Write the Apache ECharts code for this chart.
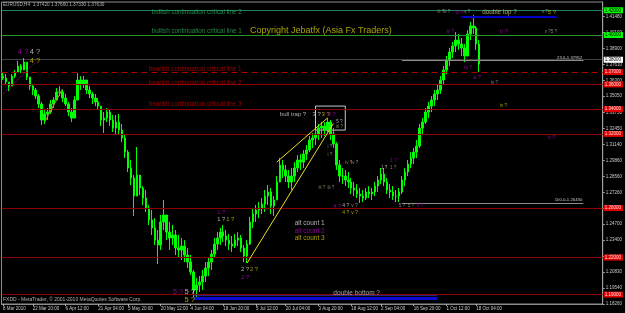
<!DOCTYPE html>
<html style="height: 100%; margin: 0;">
<head>
<meta charset="utf-8" />
<title>EURUSD,H4</title>
<script src="https://cdn.jsdelivr.net/npm/echarts@6.0.0/dist/echarts.min.js" type="text/javascript" charset="utf-8"></script>
</head>
<body style="height: 100%; margin: 0; background: #000;">
<div id="main" style="width: 625px; height: 313px;"></div>
<script type="text/javascript">
// one bar per trading day
var openP = [1.3668,1.3652,1.3620,1.3587,1.3668,1.3701,1.3749,1.3717,1.3781,1.3660,
  1.3587,1.3555,1.3506,1.3442,1.3312,1.3361,1.3377,1.3442,1.3474,1.3539,
  1.3539,1.3490,1.3442,1.3377,1.3328,1.3474,1.3636,1.3603,1.3636,1.3555,
  1.3523,1.3490,1.3458,1.3425,1.3312,1.3328,1.3377,1.3312,1.3247,1.3296,
  1.3231,1.3167,1.3053,1.2924,1.2843,1.2697,1.2867,1.2762,1.2681,1.2600,
  1.2503,1.2439,1.2341,1.2301,1.2487,1.2544,1.2406,1.2358,1.2382,1.2277,
  1.2261,1.2293,1.2220,1.2163,1.2083,1.1937,1.1977,1.2002,1.2050,1.2115,
  1.2163,1.2228,1.2309,1.2358,1.2406,1.2374,1.2341,1.2309,1.2293,1.2341,
  1.2358,1.2277,1.2212,1.2309,1.2487,1.2552,1.2584,1.2600,1.2633,1.2697,
  1.2730,1.2617,1.2665,1.2811,1.2948,1.2908,1.2859,1.2811,1.2859,1.2924,
  1.2989,1.2972,1.3037,1.3070,1.3150,1.3167,1.3199,1.3247,1.3264,1.3231,
  1.3296,1.3199,1.3118,1.2948,1.2859,1.2859,1.2827,1.2811,1.2762,1.2746,
  1.2714,1.2697,1.2681,1.2730,1.2714,1.2730,1.2778,1.2827,1.2875,1.2811,
  1.2746,1.2730,1.2697,1.2697,1.2730,1.2827,1.2892,1.2956,1.3005,1.3053,
  1.3102,1.3247,1.3296,1.3377,1.3425,1.3474,1.3523,1.3555,1.3636,1.3717,
  1.3798,1.3862,1.3911,1.3959,1.3927,1.3895,1.3830,1.4008,1.4073,1.4057,1.3927];
var closeP = [1.3652,1.3620,1.3587,1.3668,1.3701,1.3749,1.3717,1.3781,1.3660,1.3587,
  1.3555,1.3506,1.3442,1.3312,1.3361,1.3377,1.3442,1.3474,1.3539,1.3539,
  1.3490,1.3442,1.3377,1.3328,1.3474,1.3636,1.3603,1.3636,1.3555,1.3523,
  1.3490,1.3458,1.3425,1.3312,1.3328,1.3377,1.3312,1.3247,1.3296,1.3231,
  1.3167,1.3053,1.2924,1.2843,1.2697,1.2867,1.2762,1.2681,1.2600,1.2503,
  1.2439,1.2341,1.2301,1.2487,1.2544,1.2406,1.2358,1.2382,1.2277,1.2261,
  1.2293,1.2220,1.2163,1.2083,1.1937,1.1977,1.2002,1.2050,1.2115,1.2163,
  1.2228,1.2309,1.2358,1.2406,1.2374,1.2341,1.2309,1.2293,1.2341,1.2358,
  1.2277,1.2212,1.2309,1.2487,1.2552,1.2584,1.2600,1.2633,1.2697,1.2730,
  1.2617,1.2665,1.2811,1.2948,1.2908,1.2859,1.2811,1.2859,1.2924,1.2989,
  1.2972,1.3037,1.3070,1.3150,1.3167,1.3199,1.3247,1.3264,1.3231,1.3296,
  1.3199,1.3118,1.2948,1.2859,1.2859,1.2827,1.2811,1.2762,1.2746,1.2714,
  1.2697,1.2681,1.2730,1.2714,1.2730,1.2778,1.2827,1.2875,1.2811,1.2746,
  1.2730,1.2697,1.2697,1.2730,1.2827,1.2892,1.2956,1.3005,1.3053,1.3102,
  1.3247,1.3296,1.3377,1.3425,1.3474,1.3523,1.3555,1.3636,1.3717,1.3798,
  1.3862,1.3911,1.3959,1.3927,1.3895,1.3830,1.4008,1.4073,1.4057,1.3927,1.3765];
var lowP = [1.3636,1.3603,1.3547,1.3587,1.3652,1.3701,1.3692,1.3717,1.3636,1.3555,
  1.3514,1.3482,1.3409,1.3272,1.3280,1.3312,1.3361,1.3409,1.3474,1.3506,
  1.3458,1.3425,1.3345,1.3296,1.3328,1.3474,1.3555,1.3571,1.3523,1.3490,
  1.3442,1.3425,1.3393,1.3264,1.3207,1.3296,1.3264,1.3215,1.3191,1.3199,
  1.3134,1.3005,1.2892,1.2786,1.2536,1.2697,1.2705,1.2625,1.2568,1.2463,
  1.2382,1.2301,1.2147,1.2261,1.2422,1.2341,1.2261,1.2301,1.2220,1.2196,
  1.2180,1.2163,1.2115,1.2058,1.1880,1.1880,1.1921,1.1937,1.2002,1.2050,
  1.2099,1.2196,1.2261,1.2301,1.2325,1.2293,1.2261,1.2244,1.2277,1.2293,
  1.2244,1.2163,1.2155,1.2301,1.2439,1.2487,1.2519,1.2552,1.2568,1.2625,
  1.2552,1.2536,1.2665,1.2811,1.2843,1.2811,1.2762,1.2746,1.2811,1.2892,
  1.2908,1.2924,1.2989,1.3053,1.3086,1.3110,1.3150,1.3167,1.3183,1.3215,
  1.3150,1.3086,1.2908,1.2811,1.2794,1.2778,1.2762,1.2714,1.2697,1.2681,
  1.2641,1.2649,1.2665,1.2681,1.2665,1.2697,1.2730,1.2794,1.2778,1.2714,
  1.2681,1.2665,1.2649,1.2649,1.2714,1.2778,1.2859,1.2924,1.2956,1.3005,
  1.3086,1.3199,1.3280,1.3328,1.3377,1.3425,1.3474,1.3523,1.3603,1.3684,
  1.3749,1.3814,1.3862,1.3879,1.3830,1.3781,1.3830,1.3959,1.4008,1.3879,1.3701];
var highP = [1.3701,1.3684,1.3620,1.3684,1.3717,1.3790,1.3765,1.3814,1.3781,1.3660,
  1.3603,1.3571,1.3523,1.3458,1.3393,1.3409,1.3474,1.3498,1.3571,1.3587,
  1.3555,1.3523,1.3458,1.3409,1.3506,1.3692,1.3668,1.3668,1.3636,1.3587,
  1.3539,1.3523,1.3490,1.3425,1.3377,1.3409,1.3393,1.3353,1.3353,1.3361,
  1.3280,1.3199,1.3070,1.2989,1.2867,1.3094,1.2867,1.2778,1.2746,1.2625,
  1.2584,1.2519,1.2422,1.2544,1.2665,1.2544,1.2487,1.2463,1.2422,1.2382,
  1.2358,1.2341,1.2277,1.2220,1.2099,1.2034,1.2050,1.2099,1.2163,1.2196,
  1.2261,1.2358,1.2406,1.2439,1.2463,1.2422,1.2390,1.2374,1.2390,1.2406,
  1.2382,1.2301,1.2341,1.2528,1.2600,1.2625,1.2649,1.2681,1.2746,1.2786,
  1.2762,1.2697,1.2859,1.3005,1.2989,1.2948,1.2908,1.2924,1.2972,1.3029,
  1.3037,1.3070,1.3110,1.3183,1.3207,1.3231,1.3280,1.3296,1.3296,1.3328,
  1.3312,1.3247,1.3134,1.2989,1.2924,1.2908,1.2892,1.2843,1.2811,1.2794,
  1.2762,1.2746,1.2762,1.2778,1.2762,1.2811,1.2859,1.2924,1.2924,1.2843,
  1.2794,1.2778,1.2746,1.2762,1.2859,1.2924,1.2989,1.3053,1.3086,1.3150,
  1.3280,1.3328,1.3409,1.3458,1.3506,1.3555,1.3603,1.3668,1.3749,1.3830,
  1.3895,1.3943,1.4024,1.4008,1.3976,1.3927,1.4040,1.4105,1.4162,1.4073,1.3959];

var slotCount = 202;
var dateLabelIdx = [0, 10, 21, 32, 42, 53, 63, 74, 85, 95, 106, 117, 127, 138, 149, 159];
var dateLabelText = ['8 Mar 2010', '22 Mar 20:00', '6 Apr 12:00', '21 Apr 04:00', '5 May 20:00',
  '20 May 12:00', '4 Jun 04:00', '18 Jun 20:00', '5 Jul 12:00', '20 Jul 04:00', '3 Aug 20:00',
  '18 Aug 12:00', '2 Sep 04:00', '16 Sep 20:00', '1 Oct 12:00', '18 Oct 04:00'];
var priceTicks = [1.18260, 1.19540, 1.20830, 1.22100, 1.23400, 1.24700, 1.25980, 1.27260, 1.28560,
  1.29860, 1.31140, 1.32450, 1.33750, 1.35050, 1.36300, 1.37610, 1.38900, 1.40190, 1.41480];

var fibLevel = ['0.0', '23.6', '38.2', '50.0', '61.8', '100.0'];
var fibPrice = [1.41563, 1.37952, 1.35782, 1.33997, 1.32211, 1.26430];

var C_W = '#d8d8d8', C_Y = '#d4c800', C_M = '#b400c0', C_O = '#a8a060', C_G = '#a8a8a8';
var C_GREEN = '#2fa55a', C_RED = '#c00000';

// text, slot, price, colour, size
var notes = [
  ['EURUSD,H4  1.37420 1.37660 1.37330 1.37630', 0, 1.4243, C_W, 4.7],
  ['bullish continuation critical line 2', 50, 1.4186, C_GREEN, 6.3],
  ['bullish continuation critical line 1', 50, 1.4032, C_GREEN, 6.3],
  ['Copyright Jebatfx (Asia Fx Traders)', 83, 1.4040, C_Y, 9],
  ['bearish continuation critical line 1', 49, 1.3725, C_RED, 6.3],
  ['bearish continuation critical line 2', 49, 1.3612, C_RED, 6.3],
  ['bearish continuation critical line 3', 49, 1.3442, C_RED, 6.3],
  ['4 ?', 5, 1.3862, C_M, 7.5], ['4 ?', 9, 1.3862, C_W, 7.5], ['4 ?', 9, 1.3790, C_Y, 7.5],
  ['5 ?', 57, 1.1921, C_M, 7.5], ['5 ?', 61, 1.1921, C_W, 7.5], ['5 ?', 61, 1.1856, C_Y, 7.5],
  ['2 ?', 80, 1.2107, C_W, 5.8], ['2 ?', 83, 1.2107, C_Y, 5.8], ['2 ?', 80, 1.2042, C_M, 6],
  ['1 ?', 72, 1.2568, C_M, 5.8], ['1 ?', 72, 1.2511, C_W, 5.8], ['1 ?', 75, 1.2511, C_Y, 5.8],
  ['bull trap ?', 93, 1.3361, C_W, 6],
  ['3 ?', 104, 1.3361, C_W, 6], ['3 ?', 107, 1.3361, C_Y, 6], ['3 ?', 109, 1.3361, C_M, 6],
  ['5 ?', 112, 1.3296, C_W, 4.5], ['iii ?', 112, 1.3256, C_O, 4.5],
  ['i ?', 109, 1.3094, C_G, 4.5], ['i ?', 109, 1.3029, C_O, 4.5],
  ['iv ?', 115, 1.2964, C_O, 4.5], ['iv ?', 117, 1.2964, C_G, 4.5],
  ['1 ?', 130, 1.2980, C_M, 5], ['1 ?', 127, 1.2924, C_W, 4.5], ['1 ?', 130, 1.2924, C_O, 4.5],
  ['iii ?', 106, 1.2762, C_O, 4.5], ['iii ?', 109, 1.2762, C_G, 4.5],
  ['4 ?', 111, 1.2617, C_M, 5.8], ['4 ?', 114, 1.2617, C_W, 5], ['v ?', 117, 1.2617, C_G, 5],
  ['4 ?', 114, 1.2560, C_Y, 5], ['v ?', 117, 1.2560, C_Y, 5],
  ['5 ?', 133, 1.2617, C_G, 4.5], ['5 ?', 136, 1.2617, C_O, 4.5], ['5 ?', 139, 1.2617, C_M, 4.5],
  ['alt count 1', 98, 1.2479, C_W, 6.5], ['alt count 2', 98, 1.2414, C_M, 6.5], ['alt count 3', 98, 1.2358, C_Y, 6.5],
  ['double top ?', 161, 1.4186, '#d0d080', 6.3],
  ['iii ?', 146, 1.4186, C_O, 4.5], ['iii ?', 148, 1.4186, C_G, 4.5], ['5 ?', 152, 1.4186, C_M, 6], ['v ?', 155, 1.4186, C_G, 4.5],
  ['v ?', 181, 1.4186, C_G, 4.5], ['5 ?', 183, 1.4186, C_Y, 6],
  ['iii ?', 149, 1.4024, C_M, 5], ['b ?', 167, 1.4032, C_M, 6], ['v ?5 ?', 182, 1.4024, C_G, 4.5],
  ['iv ?', 155, 1.3733, C_M, 5], ['a ?', 158, 1.3660, C_M, 5.5],
  ['iv ?', 164, 1.3612, C_G, 4.5], ['iv ?', 167, 1.3425, C_Y, 4.5], ['c ?', 183, 1.3175, C_M, 6],
  ['double bottom ?', 111, 1.1913, '#c8c8c8', 6.5],
  ['FXDD - MetaTrader, \u00a9 2001-2010 MetaQuotes Software Corp.', 0, 1.1856, C_W, 5]
];

var dates = [];
var d = new Date(Date.UTC(2010, 2, 8));
while (dates.length < slotCount) {
  var wd = d.getUTCDay();
  if (wd !== 0 && wd !== 6) dates.push(d.toISOString().slice(0, 10));
  d.setUTCDate(d.getUTCDate() + 1);
}

var bars = [];
for (var i = 0; i < openP.length; i++) {
  bars.push([openP[i], closeP[i], lowP[i], highP[i]]);
}

function tag(bg, fg) {
  return {
    show: true, position: 'end', distance: 1, backgroundColor: bg, color: fg,
    fontSize: 4.5, padding: [1, 2, 0, 1],
    formatter: function (p) { return p.value.toFixed(5); }
  };
}

var darkRed = '#8c0000';
var lines = [
  { yAxis: 1.41563, lineStyle: { color: '#1d8060', width: 1, type: 'solid' }, label: tag('#00ff00', '#000') },
  { yAxis: 1.39950, lineStyle: { color: '#26962a', width: 1, type: 'solid' }, label: tag('#00ff00', '#000') },
  { yAxis: 1.37630, lineStyle: { color: '#808080', width: 1, type: 'dotted' }, label: tag('#ffffff', '#000') },
  { yAxis: 1.36950, lineStyle: { color: '#b00000', width: 1, type: [6, 4] }, label: tag('#e00000', '#ffe0e0') },
  { yAxis: 1.35782, lineStyle: { color: darkRed, width: 1, type: 'solid' }, label: tag('#e00000', '#ffe0e0') },
  { yAxis: 1.33997, lineStyle: { color: darkRed, width: 1, type: 'solid' }, label: tag('#e00000', '#ffe0e0') },
  { yAxis: 1.32211, lineStyle: { color: darkRed, width: 1, type: 'solid' }, label: tag('#e00000', '#ffe0e0') },
  { yAxis: 1.25760, lineStyle: { color: darkRed, width: 1, type: 'solid' }, label: tag('#e00000', '#ffe0e0') },
  { yAxis: 1.21640, lineStyle: { color: darkRed, width: 1, type: 'solid' }, label: tag('#e00000', '#ffe0e0') },
  { yAxis: 1.18810, lineStyle: { color: darkRed, width: 1, type: 'solid' }, label: tag('#e00000', '#ffe0e0') }
];

// fibo retracement drawn on the last swing
for (var f = 0; f < fibLevel.length; f++) {
  var visible = fibLevel[f] === '23.6' || fibLevel[f] === '100.0';
  lines.push([
    {
      coord: [134, fibPrice[f]],
      lineStyle: { color: '#8c8c8c', width: visible ? 1 : 0, opacity: visible ? 1 : 0, type: 'solid' },
      label: {
        show: true, position: 'insideEndTop', distance: 1, color: '#c8c8c8', fontSize: 4.3,
        formatter: fibLevel[f] + '-' + fibPrice[f].toFixed(5)
      }
    },
    { coord: [195, fibPrice[f]] }
  ]);
}

lines.push(
  [{ coord: [82, 1.2155], lineStyle: { color: '#e8e020', width: 1, type: 'solid' } }, { coord: [111, 1.3284] }],
  [{ coord: [92, 1.2972], lineStyle: { color: '#e8e020', width: 1, type: 'solid' } }, { coord: [109, 1.3328] }],
  [{ coord: [0, 1.3523], lineStyle: { color: '#a000a0', width: 1, type: 'dotted' } }, { coord: [11, 1.3781] }],
  [{ coord: [14, 1.3296], lineStyle: { color: '#a89020', width: 1, type: 'solid' } }, { coord: [20, 1.3563] }],
  [{ coord: [154, 1.4148], lineStyle: { color: '#0000c8', width: 2, type: 'solid' } }, { coord: [186, 1.4148] }],
  [{ coord: [64, 1.1870], lineStyle: { color: '#0a0ad0', width: 3, type: 'solid' } }, { coord: [146, 1.1870] }],
  [{ coord: [64, 1.1894], lineStyle: { color: '#4a4aff', width: 1, type: 'dotted' } }, { coord: [146, 1.1894] }]
);

var myChart = echarts.init(document.getElementById('main'));
myChart.setOption({
  backgroundColor: '#000',
  animation: false,
  textStyle: { fontFamily: '"Liberation Sans", Arial, sans-serif' },
  grid: { left: 0, right: 19, top: 2, bottom: 9, show: true, borderColor: '#8c8c8c', borderWidth: 1 },
  xAxis: {
    type: 'category', data: dates, boundaryGap: true,
    axisLine: { show: true, lineStyle: { color: '#8c8c8c' } },
    axisTick: {
      show: true, alignWithLabel: true, length: 2, lineStyle: { color: '#b0b0b0' },
      interval: function (idx) { return dateLabelIdx.indexOf(idx) >= 0; }
    },
    axisLabel: {
      fontSize: 4.5, color: '#c8c8c8', align: 'left', margin: 2,
      interval: function (idx) { return dateLabelIdx.indexOf(idx) >= 0; },
      formatter: function (v, idx) { return dateLabelText[dateLabelIdx.indexOf(idx)] || ''; }
    },
    splitLine: { show: false }
  },
  yAxis: {
    type: 'value', position: 'right', min: 1.1824, max: 1.4267,
    splitLine: { show: false },
    axisLine: { show: true, lineStyle: { color: '#a0a0a0' } },
    axisTick: { show: true, length: 2, customValues: priceTicks, lineStyle: { color: '#a0a0a0' } },
    axisLabel: {
      customValues: priceTicks, fontSize: 4.5, color: '#c8c8c8', margin: 3,
      formatter: function (v) { return v.toFixed(5); }
    }
  },
  series: [
    {
      name: 'EURUSD,H4', type: 'candlestick', data: bars, barWidth: 2,
      itemStyle: { color: '#00ff00', color0: '#00ff00', borderColor: '#00ff00', borderColor0: '#00ff00', borderWidth: 1 },
      markLine: { silent: true, symbol: ['none', 'none'], label: { show: false }, data: lines },
      markArea: {
        silent: true,
        itemStyle: { color: 'rgba(0,0,0,0)', borderColor: '#c8c8c8', borderWidth: 1 },
        data: [[{ coord: [105, 1.3425] }, { coord: [115, 1.3231] }]]
      }
    },
    {
      name: 'notes', type: 'scatter', symbolSize: 0, silent: true, z: 10,
      data: notes.map(function (n) {
        return {
          value: [n[1], n[2]],
          label: { show: true, position: 'right', distance: 0, formatter: n[0], color: n[3], fontSize: n[4] }
        };
      })
    }
  ]
});
window.onresize = myChart.resize;
</script>
</body>
</html>
